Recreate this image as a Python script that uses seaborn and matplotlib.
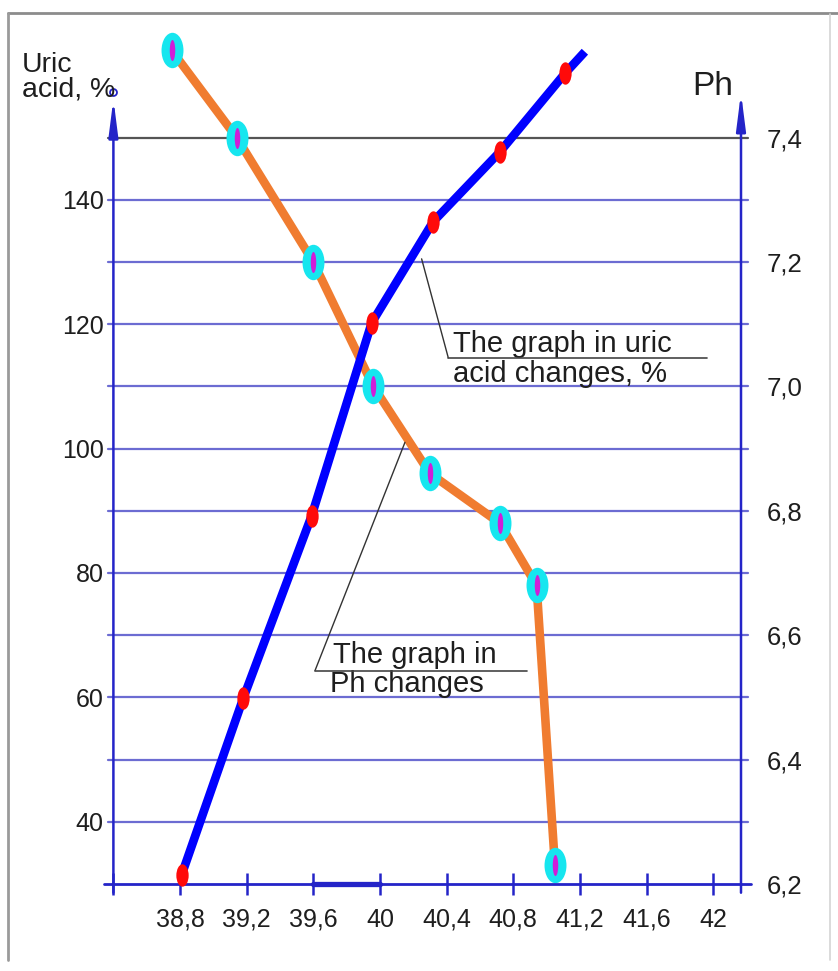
"""
Uric acid (%) and Ph against temperature, two y axes.
Saves out.png
"""

import matplotlib
matplotlib.use("Agg")
import matplotlib.pyplot as plt
import seaborn as sns
import pandas as pd
from matplotlib.path import Path
from matplotlib.transforms import Affine2D
from matplotlib.lines import Line2D

# values
TEMP_TICKS = [38.4, 38.8, 39.2, 39.6, 40.0, 40.4, 40.8, 41.2, 41.6, 42.0]
URIC_TICKS = [40, 60, 80, 100, 120, 140]
PH_TICKS = [6.2, 6.4, 6.6, 6.8, 7.0, 7.2, 7.4]
GRID_PH = [6.3, 6.4, 6.5, 6.6, 6.7, 6.8, 6.9, 7.0, 7.1, 7.2, 7.3, 7.4]

URIC_TEMP = [38.81, 39.18, 39.59, 39.95, 40.32, 40.72, 41.11]
URIC_PCT = [31.5, 59.9, 89.2, 120.2, 136.5, 147.7, 160.3]
URIC_END_TEMP = 41.23   # blue line runs on past the last dot
URIC_END_PCT = 163.8

PH_TEMP = [38.75, 39.14, 39.60, 39.96, 40.30, 40.72, 40.94, 41.05]
PH_VALUE = [7.54, 7.40, 7.20, 7.00, 6.86, 6.78, 6.68, 6.23]

W, H = 838, 971
AXIS_BLUE = "#2424c8"
GRID_BLUE = "#6c6cd2"
TEXT = "#1e1e1e"

sns.set_style("white")
plt.rcParams["font.family"] = ["Liberation Sans", "DejaVu Sans"]


def fx(px):
    return px / W


def fy(py):
    return 1 - py / H


def comma(v, nd=1):
    return f"{v:.{nd}f}".replace(".", ",")


fig = plt.figure(figsize=(W / 100, H / 100), dpi=100)
ax = fig.add_axes([fx(113.4), fy(884), (741 - 113.4) / W, 858.4 / H])
ax2 = ax.twinx()

x0, x1 = 38.4, 42.167
ax.set_xlim(x0, x1)
ax.set_ylim(30, 168)
ax2.set_ylim(6.2, 7.58)
for a in (ax, ax2):
    a.patch.set_visible(False)
    for s in a.spines.values():
        s.set_visible(False)
# blue series drawn above the orange one
ax.set_zorder(ax2.get_zorder() + 1)

# horizontal grid (on the Ph axis, so it stays behind everything)
for g in GRID_PH:
    c = "#555555" if abs(g - 7.4) < 1e-6 else GRID_BLUE
    ax2.plot([38.368, 42.21], [g, g], color=c, lw=1.6, clip_on=False, zorder=1)

# axes drawn by hand: arrows up, bottom line a little longer
ax.plot([38.345, 42.23], [30, 30], color=AXIS_BLUE, lw=2, clip_on=False, zorder=2)
ax.plot([39.6, 40.0], [30, 30], color=AXIS_BLUE, lw=3.8, clip_on=False, zorder=2)
arrow = dict(arrowstyle="-|>,head_length=2.2,head_width=0.28", color=AXIS_BLUE,
             lw=1.8, mutation_scale=10, shrinkA=0, shrinkB=0)
ax.annotate("", xy=(x0, 156.2), xytext=(x0, 28.6), arrowprops=arrow,
            annotation_clip=False)
ax.annotate("", xy=(x1, 157.2), xytext=(x1, 28.6), arrowprops=arrow,
            annotation_clip=False)
ax.plot([x0], [157.4], marker="o", ms=5, mfc="white", mec=AXIS_BLUE, mew=1.3,
        clip_on=False)

ellipse = lambda r: Path.unit_circle().transformed(Affine2D().scale(r, 1.0))

# Ph series (orange, cyan/magenta marks)
ph = pd.DataFrame({"temp": PH_TEMP, "ph": PH_VALUE})
sns.lineplot(data=ph, x="temp", y="ph", sort=False, color="#f07c30", lw=6.2,
             solid_capstyle="butt", ax=ax2, zorder=3)
sns.scatterplot(data=ph, x="temp", y="ph", marker=ellipse(0.62), s=650,
                color="#16e6ef", linewidth=0, ax=ax2, zorder=4, clip_on=False)
sns.scatterplot(data=ph, x="temp", y="ph", marker=ellipse(0.26), s=230,
                color="#d01ed8", linewidth=0, ax=ax2, zorder=5, clip_on=False)

# uric acid series (blue, red marks)
uric = pd.DataFrame({"temp": URIC_TEMP, "pct": URIC_PCT})
uric_line = pd.concat([uric, pd.DataFrame({"temp": [URIC_END_TEMP], "pct": [URIC_END_PCT]})])
sns.lineplot(data=uric_line, x="temp", y="pct", sort=False, color="#0000ff", lw=6.2,
             solid_capstyle="butt", ax=ax, zorder=3)
sns.scatterplot(data=uric, x="temp", y="pct", marker=ellipse(0.55), s=260,
                color="#ff0a0a", linewidth=0, ax=ax, zorder=4, clip_on=False)

# ticks
ax.set_xticks(TEMP_TICKS)
ax.set_xticklabels([""] + [f"{t:g}".replace(".", ",") for t in TEMP_TICKS[1:]])
ax.tick_params(axis="x", direction="inout", length=16, width=1.8, color=AXIS_BLUE,
               pad=9, labelsize=18, labelcolor=TEXT, bottom=True)
ax.set_yticks(URIC_TICKS)
ax.tick_params(axis="y", length=0, pad=7, labelsize=18, labelcolor=TEXT, left=True)
ax2.set_yticks(PH_TICKS)
ax2.set_yticklabels([comma(t) for t in PH_TICKS])
ax2.tick_params(axis="y", length=0, pad=18.5, labelsize=18.5, labelcolor=TEXT)
ax.set_xlabel("")
ax.set_ylabel("")
ax2.set_ylabel("")

# call-outs
lead = dict(arrowstyle="-", color="#333333", lw=1.0, shrinkA=0, shrinkB=0)
ax.annotate("", xy=(40.25, 130.5), xytext=(40.41, 114.6), arrowprops=lead)
ax.plot([40.41, 41.96], [114.6, 114.6], color="#444444", lw=1.2, zorder=6)
ax.text(40.44, 115.6, "The graph in uric", fontsize=21, color=TEXT, va="baseline")
ax.text(40.44, 110.7, "acid changes, %", fontsize=21, color=TEXT, va="baseline")

ax.annotate("", xy=(40.15, 101.0), xytext=(39.61, 64.3), arrowprops=lead)
ax.plot([39.61, 40.88], [64.3, 64.3], color="#444444", lw=1.2, zorder=6)
ax.text(39.72, 65.6, "The graph in", fontsize=21, color=TEXT, va="baseline")
ax.text(39.70, 60.8, "Ph changes", fontsize=21, color=TEXT, va="baseline")

# axis titles
fig.text(fx(22), fy(72), "Uric", fontsize=20.5, color=TEXT, va="baseline")
fig.text(fx(22), fy(97), "acid, %", fontsize=20.5, color=TEXT, va="baseline")
fig.text(fx(692), fy(95), "Ph", fontsize=24, color=TEXT, va="baseline")

# picture frame
fig.add_artist(Line2D([fx(8), 1], [fy(13), fy(13)], color="#8c8c8c", lw=2))
fig.add_artist(Line2D([fx(8), fx(8)], [fy(13), fy(960)], color="#9a9a9a", lw=2))
fig.add_artist(Line2D([fx(830), fx(830)], [fy(14), fy(960)], color="#d4d4d4", lw=1.2))

fig.savefig("out.png", dpi=100)
